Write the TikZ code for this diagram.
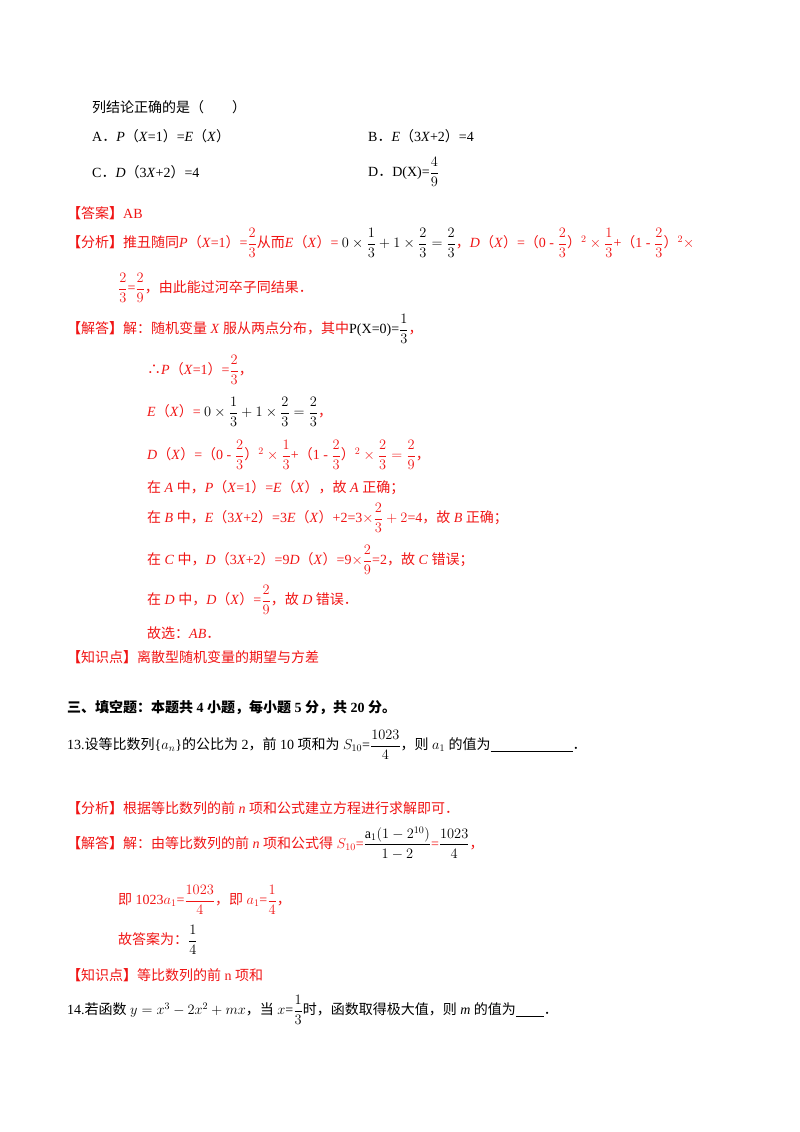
\documentclass[tikz,border=0pt]{standalone}
\usepackage{amsmath}
\usepackage{fontspec}
\setmainfont{Liberation Serif}
\newfontfamily\cjk{Noto Sans CJK SC}
\newcommand\zh[1]{{\cjk #1}}
\newcommand\fr[2]{$\dfrac{#1}{#2}$}
\newcommand\dt{\zh{．}}
\definecolor{ans}{RGB}{240,20,20}
\begin{document}
\begin{tikzpicture}[x=1pt,y=-1pt,
  t/.style={anchor=west,inner sep=0pt,font=\fontsize{14}{16}\selectfont},
  r/.style={t,text=ans}]
\useasboundingbox (0,0) rectangle (800,1132);
\node[t] (l1) at (92,107) {\zh{列结论正确的是（　　）}};
\node[t] (a) at (92,136) {A\dt\textit{P}\zh{（}\textit{X}=1\zh{）}=\textit{E}\zh{（}\textit{X}\zh{）}};
\node[t] (b) at (368,136) {B\dt\textit{E}\zh{（}3\textit{X}+2\zh{）}=4};
\node[t] (c) at (92,172) {C\dt\textit{D}\zh{（}3\textit{X}+2\zh{）}=4};
\node[t] (d) at (368,172) {D\dt D(X)=\fr{4}{9}};
\node[r] (da) at (67,213) {\zh{\textbf{【}答案\textbf{】}}AB};
\node[r] (fx) at (67,243) {\zh{\textbf{【}分析\textbf{】}推丑随同}\textit{P}\zh{（}\textit{X}=1\zh{）}=\fr{2}{3}\zh{从而}\textit{E}\zh{（}\textit{X}\zh{）}= {\color{black}$0\times\dfrac13+1\times\dfrac23=\dfrac23$}\zh{，}\textit{D}\zh{（}\textit{X}\zh{）}=\zh{（}0 - \fr{2}{3}\zh{）}$^2\times\dfrac13$+\zh{（}1 - \fr{2}{3}\zh{）}$^2\times$};
\node[r] (fx2) at (118,288) {\fr{2}{3}=\fr{2}{9}\zh{，由此能过河卒子同结果}\dt};
\node[r] (jd) at (67,329) {\zh{\textbf{【}解答\textbf{】}解：随机变量} \textit{X} \zh{服从两点分布，其中}{\color{black}P(X=0)=\fr{1}{3}}\zh{，}};
\node[r] (s1) at (147,370) {\zh{∴}\textit{P}\zh{（}\textit{X}=1\zh{）}=\fr{2}{3}\zh{，}};
\node[r] (s2) at (147,412) {\textit{E}\zh{（}\textit{X}\zh{）}= {\color{black}$0\times\dfrac13+1\times\dfrac23=\dfrac23$}\zh{，}};
\node[r] (s3) at (147,455) {\textit{D}\zh{（}\textit{X}\zh{）}=\zh{（}0 - \fr{2}{3}\zh{）}$^2\times\dfrac13$+\zh{（}1 - \fr{2}{3}\zh{）}$^2\times\dfrac23=\dfrac29$\zh{，}};
\node[r] (s4) at (147,488) {\zh{在} \textit{A} \zh{中，}\textit{P}\zh{（}\textit{X}=1\zh{）}=\textit{E}\zh{（}\textit{X}\zh{），故} \textit{A} \zh{正确；}};
\node[r] (s5) at (147,518) {\zh{在} \textit{B} \zh{中，}\textit{E}\zh{（}3\textit{X}+2\zh{）}=3\textit{E}\zh{（}\textit{X}\zh{）}+2=3$\times\dfrac23+2$=4\zh{，故} \textit{B} \zh{正确；}};
\node[r] (s6) at (147,560) {\zh{在} \textit{C} \zh{中，}\textit{D}\zh{（}3\textit{X}+2\zh{）}=9\textit{D}\zh{（}\textit{X}\zh{）}=9$\times\dfrac29$=2\zh{，故} \textit{C} \zh{错误；}};
\node[r] (s7) at (147,600) {\zh{在} \textit{D} \zh{中，}\textit{D}\zh{（}\textit{X}\zh{）}=\fr{2}{9}\zh{，故} \textit{D} \zh{错误}\dt};
\node[r] (s8) at (147,633) {\zh{故选：}\textit{AB}\dt};
\node[r] (zs) at (67,657) {\zh{\textbf{【}知识点\textbf{】}离散型随机变量的期望与方差}};
\node[t] (h3) at (67,708) {\zh{\bfseries 三、填空题：本题共} \textbf{4} \zh{\bfseries 小题，每小题} \textbf{5} \zh{\bfseries 分，共} \textbf{20} \zh{\bfseries 分。}};
\node[t] (q13) at (67,745) {13.\zh{设等比数列}\{$a_n$\}\zh{的公比为} 2\zh{，前} 10 \zh{项和为} $S_{10}$=\fr{1023}{4}\zh{，则} $a_1$ \zh{的值为}\underline{\hspace{82pt}}\dt};
\node[r] (f13) at (67,808) {\zh{\textbf{【}分析\textbf{】}根据等比数列的前} \textit{n} \zh{项和公式建立方程进行求解即可}\dt};
\node[r] (j13) at (67,843) {\zh{\textbf{【}解答\textbf{】}解：由等比数列的前} \textit{n} \zh{项和公式得} $S_{10}$=\color{black}$\dfrac{\mathrm{a}_1(1-2^{10})}{1-2}$\color{ans}=\color{black}\fr{1023}{4}\color{ans}\zh{，}};
\node[r] (k13) at (118,900) {\zh{即} 1023$a_1$=\fr{1023}{4}\zh{，即} $a_1$=\fr{1}{4}\zh{，}};
\node[r] (g13) at (118,940) {\zh{故答案为：}{\color{black}\fr{1}{4}}};
\node[r] (z13) at (67,975) {\zh{\textbf{【}知识点\textbf{】}等比数列的前} n \zh{项和}};
\node[t] (q14) at (67,1010) {14.\zh{若函数} $y=x^3-2x^2+mx$\zh{，当} $x$=\fr{1}{3}\zh{时，函数取得极大值，则} \textit{m} \zh{的值为}\underline{\hspace{28pt}}\dt};
\end{tikzpicture}
\end{document}
